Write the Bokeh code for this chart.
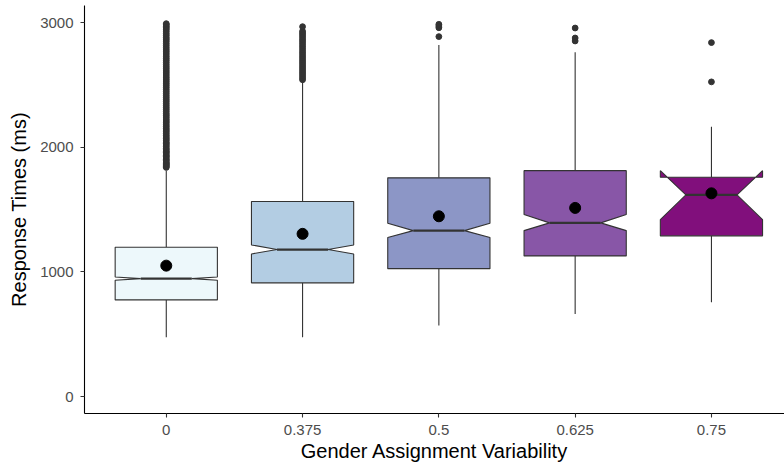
from bokeh.plotting import figure
from bokeh.models import Range1d, FixedTicker, ColumnDataSource
from bokeh.embed import file_html
from bokeh.resources import INLINE

# Gender assignment variability levels (x categories)
categories = ["0", "0.375", "0.5", "0.625", "0.75"]

# Box-plot summary per level (response times in ms)
lower_whisker = [476, 476, 569, 663, 756]
q1 = [775, 912, 1026, 1128, 1289]
median = [946, 1179, 1331, 1393, 1617]
q3 = [1197, 1564, 1754, 1812, 1759]
upper_whisker = [1812, 2521, 2820, 2761, 2165]
notch_low = [933, 1144, 1275, 1331, 1419]
notch_high = [959, 1216, 1390, 1460, 1812]
mean_rt = [1050, 1305, 1446, 1513, 1630]

# Outlying response times per level
outliers_0 = [1838, 1846, 1855, 1863, 1871, 1880, 1892, 1901, 1913, 1925, 1934, 1946,
              1958, 1967, 1979, 1990, 2004, 2017, 2029, 2040, 2056, 2068, 2081, 2095,
              2110, 2124, 2137, 2151, 2166, 2180, 2196, 2210, 2225, 2241, 2256, 2270,
              2287, 2303, 2318, 2334, 2350, 2367, 2382, 2398, 2414, 2431, 2447, 2463,
              2480, 2497, 2513, 2530, 2546, 2562, 2579, 2596, 2612, 2629, 2645, 2662,
              2680, 2697, 2713, 2730, 2748, 2765, 2781, 2798, 2815, 2832, 2850, 2866,
              2880, 2897, 2913, 2930, 2946, 2958, 2970, 2982, 2991]
outliers_0375 = [2541, 2556, 2572, 2588, 2603, 2619, 2635, 2651, 2668, 2684, 2700,
                 2717, 2733, 2750, 2766, 2783, 2800, 2816, 2833, 2850, 2866, 2883,
                 2899, 2915, 2930, 2967]
outliers_05 = [2887, 2958, 2972, 2986]
outliers_0625 = [2852, 2876, 2956]
outliers_075 = [2524, 2839]
outliers = [outliers_0, outliers_0375, outliers_05, outliers_0625, outliers_075]

fills = ["#EDF8FB", "#B3CDE3", "#8C96C6", "#8856A7", "#810F7C"]

EDGE = "#333333"
FONT = "Liberation Sans"
half_width = 0.375            # box width 0.75
indent = half_width * 0.5     # notch narrows the box to half its width

positions = list(range(1, len(categories) + 1))

# notched box outlines
box_xs, box_ys = [], []
for i, xc in enumerate(positions):
    x0, x1 = xc - half_width, xc + half_width
    box_xs.append([x0, x0, x0 + indent, x0, x0, x1, x1, x1 - indent, x1, x1])
    box_ys.append([q3[i], notch_high[i], median[i], notch_low[i], q1[i],
                   q1[i], notch_low[i], median[i], notch_high[i], q3[i]])
boxes = ColumnDataSource(dict(xs=box_xs, ys=box_ys, fill=fills))

whiskers = ColumnDataSource(dict(
    x=positions + positions,
    y0=q3 + q1,
    y1=upper_whisker + lower_whisker,
))

medians = ColumnDataSource(dict(
    x0=[xc - half_width + indent for xc in positions],
    x1=[xc + half_width - indent for xc in positions],
    y=median,
))

out_x, out_y = [], []
for xc, vals in zip(positions, outliers):
    out_x.extend([xc] * len(vals))
    out_y.extend(vals)
outlier_src = ColumnDataSource(dict(x=out_x, y=out_y))

means = ColumnDataSource(dict(x=positions, y=mean_rt))

p = figure(width=784, height=467, output_backend="svg", toolbar_location=None,
           x_range=Range1d(0.4, 5.536), y_range=Range1d(-136, 3136.6),
           min_border_left=84, min_border_right=0, min_border_top=5,
           min_border_bottom=54)
p.background_fill_color = "white"
p.border_fill_color = "white"
p.outline_line_color = None
p.grid.visible = False

p.scatter("x", "y", source=outlier_src, size=5.8, color=EDGE)
p.segment(x0="x", y0="y0", x1="x", y1="y1", source=whiskers,
          line_color=EDGE, line_width=1.1)
p.patches("xs", "ys", source=boxes, fill_color="fill", line_color=EDGE,
          line_width=1.1)
p.segment(x0="x0", y0="y", x1="x1", y1="y", source=medians,
          line_color=EDGE, line_width=2.2)
p.scatter("x", "y", source=means, size=11, color="black")

p.xaxis.ticker = FixedTicker(ticks=positions)
p.xaxis.major_label_overrides = {xc: c for xc, c in zip(positions, categories)}
p.yaxis.ticker = FixedTicker(ticks=[0, 1000, 2000, 3000])

p.xaxis.axis_label = "Gender Assignment Variability"
p.yaxis.axis_label = "Response Times (ms)"

for ax in (p.xaxis[0], p.yaxis[0]):
    ax.axis_line_color = "black"
    ax.axis_line_width = 1.1
    ax.major_tick_line_color = EDGE
    ax.major_tick_line_width = 1.1
    ax.major_tick_out = 4
    ax.major_tick_in = 0
    ax.minor_tick_line_color = None
    ax.major_label_text_font = FONT
    ax.major_label_text_font_size = "15px"
    ax.major_label_text_color = "#4D4D4D"
    ax.major_label_standoff = 7
    ax.axis_label_text_font = FONT
    ax.axis_label_text_font_size = "20px"
    ax.axis_label_text_font_style = "normal"
    ax.axis_label_text_color = "black"

p.xaxis.axis_label_standoff = 2
p.yaxis.axis_label_standoff = 7

open("out.html", "w").write(file_html(p, INLINE))
